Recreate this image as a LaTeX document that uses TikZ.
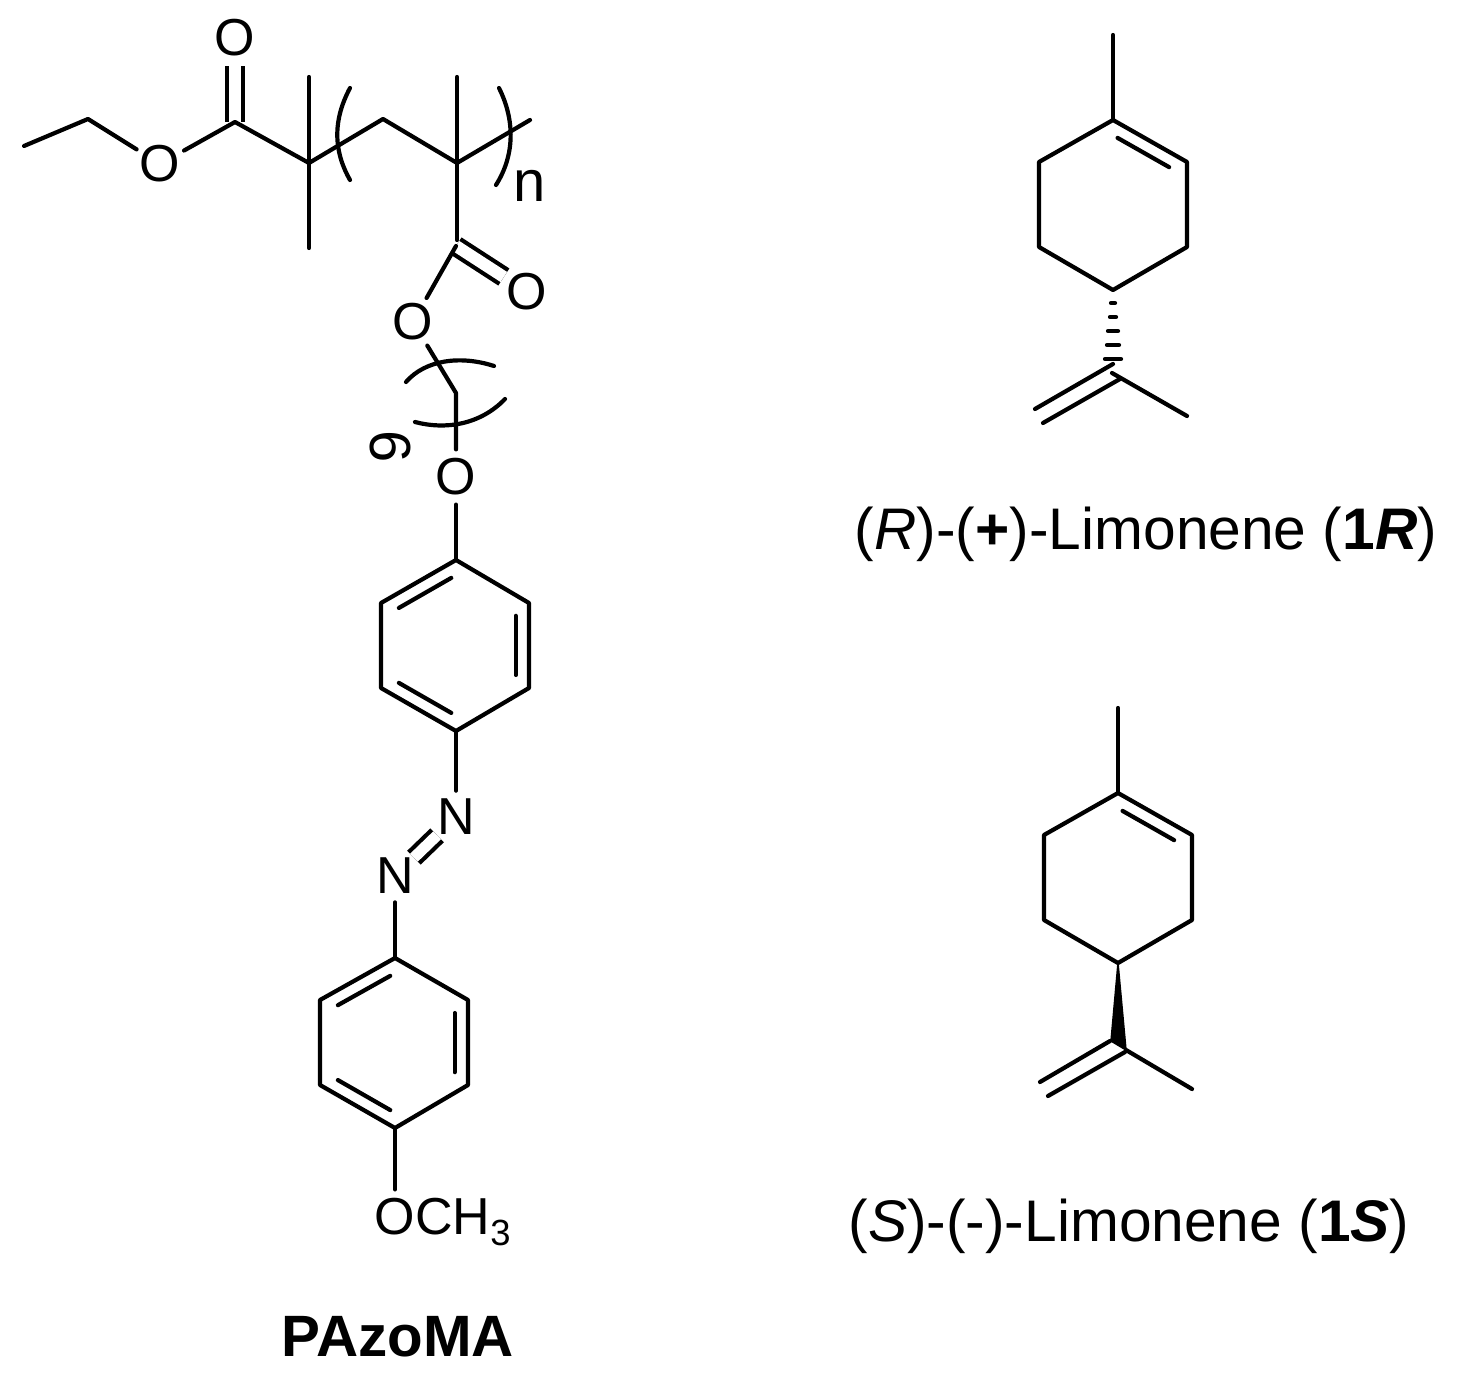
\documentclass[tikz,border=0pt]{standalone}
\usepackage{fontspec}
\setmainfont{Liberation Sans}
\usepackage{tikz}
\usetikzlibrary{calc}
\usetikzlibrary{math}
\usetikzlibrary{positioning}
\tikzstyle{bond} = [line width=0.084cm, line cap=round, line join=round]
\tikzstyle{dbond} = [line width=0.084cm, double, double distance=0.24cm]
\tikzstyle{atom} = [circle, inner sep=0pt, minimum size=1.04cm, font=\fontsize{29.6}{30}\selectfont]
\tikzstyle{title} = [inner sep=0pt, font=\fontsize{33.4}{36}\selectfont]

\begin{document}
\begin{tikzpicture}[x=0.02cm, y=-0.02cm]

  \tikzmath{\xmax = 1457; \ymax = 1378; \k = 0.82;}
  \useasboundingbox (0,0) rectangle (\xmax,\ymax);

  % Fig 1
  \coordinate (me1) at (24,146);
  \coordinate (ch1) at (88,119);
  \node[atom] (o1) at (160,164) {O};
  \coordinate (c1) at (235,122);
  \node[atom] (o2) at (235,38) {O};
  \coordinate (q1) at (309,163);
  \coordinate (q1u) at (309,77);
  \coordinate (q1d) at (309,248);
  \coordinate (ch2) at (383,119);
  \coordinate (q2) at (457,163);
  \coordinate (q2u) at (457,77);
  \coordinate (q2r) at (530,120);
  \coordinate (c2) at (456,246);
  \coordinate (c2t) at (457,240);
  \node[atom] (o3) at (527,292) {O};
  \node[atom] (o4) at (413,322) {O};
  \coordinate (ch3) at (456,393);
  \node[atom] (o5) at (456,477) {O};

  \draw[dbond] (c1) -- (o2);
  \draw[dbond] (c2) -- (o3);
  \draw[bond] (me1) -- (ch1) -- (o1);
  \draw[bond] (o1) -- (c1) -- (q1) -- (ch2) -- (q2) -- (q2r);
  \draw[bond] (q1u) -- (q1d);
  \draw[bond] (q2u) -- (q2) -- (c2t);
  \draw[bond] (c2) -- (o4);
  \draw[bond] (o4) -- (ch3) -- (o5);

  % brackets
  \draw[bond] (350,88) .. controls (333,120) and (333,150) .. (350,180);
  \draw[bond] (499,88) .. controls (515,120) and (515,155) .. (496,185);
  \draw[bond] (406,382) .. controls (425,360) and (460,355) .. (494,366);
  \draw[bond] (415,422) .. controls (445,430) and (480,425) .. (505,399);
  \node[atom] (n) at (530,186) {\fontsize{33}{34}\selectfont n};
  \node[atom, rotate=-90] (six) at (390,447) {\fontsize{33}{34}\selectfont 6};

  % rings of the azo part
  \coordinate (a1) at (456,560);
  \coordinate (a2) at (529,603);
  \coordinate (a3) at (529,688);
  \coordinate (a4) at (456,731);
  \coordinate (a5) at (381,688);
  \coordinate (a6) at (381,603);
  \coordinate (ac) at (455,645);
  \draw[bond] (a1) -- (a2) -- (a3) -- (a4) -- (a5) -- (a6) -- cycle;
  \foreach \p/\q in {a6/a1, a2/a3, a4/a5} {
    \draw[bond, shorten >=3pt, shorten <=3pt] ($(ac)!\k!(\p)$) -- ($(ac)!\k!(\q)$);
  }
  \draw[bond] (o5) -- (a1);

  \node[atom] (n1) at (456,817) {N};
  \node[atom] (n2) at (395,876) {N};
  \draw[dbond, double distance=0.22cm] (n1) -- (n2);
  \draw[bond] (a4) -- (n1);

  \coordinate (b1) at (395,958);
  \coordinate (b2) at (468,1000);
  \coordinate (b3) at (468,1085);
  \coordinate (b4) at (395,1128);
  \coordinate (b5) at (320,1085);
  \coordinate (b6) at (320,1000);
  \coordinate (bc) at (394,1043);
  \draw[bond] (b1) -- (b2) -- (b3) -- (b4) -- (b5) -- (b6) -- cycle;
  \foreach \p/\q in {b6/b1, b2/b3, b4/b5} {
    \draw[bond, shorten >=3pt, shorten <=3pt] ($(bc)!\k!(\p)$) -- ($(bc)!\k!(\q)$);
  }
  \draw[bond] (n2) -- (b1);

  \node[atom] (o6) at (395,1217) {O};
  \node[inner sep=0pt, anchor=base west, font=\fontsize{29.6}{30}\selectfont] (ch3t) at ($(o6.base)+(20,0)$) {CH\textsubscript{3}};
  \draw[bond] (b4) -- (o6);

  \node[title, font=\fontsize{33.2}{36}\selectfont\bfseries] (pazoma) at (398,1337) {PAzoMA};

  % Fig 2
  \coordinate (r1) at (1113,120);
  \coordinate (r2) at (1187,162);
  \coordinate (r3) at (1187,247);
  \coordinate (r4) at (1113,290);
  \coordinate (r5) at (1039,247);
  \coordinate (r6) at (1039,162);
  \coordinate (rc) at (1113,205);
  \coordinate (rme) at (1113,35);
  \draw[bond] (r1) -- (r2) -- (r3) -- (r4) -- (r5) -- (r6) -- cycle;
  \draw[bond] (rme) -- (r1);
  \draw[bond, shorten >=3pt, shorten <=3pt] ($(rc)!\k!(r1)$) -- ($(rc)!\k!(r2)$);
  \foreach \y/\w in {303/2, 317/3, 331/5, 345/6, 359/8} {
    \draw[bond] (1113-\w,\y) -- (1113+\w,\y);
  }
  \coordinate (rq1) at (1112,373);
  \coordinate (rq2) at (1187,416);
  \coordinate (rd1) at (1113,364);
  \coordinate (rd2) at (1035,409);
  \coordinate (rd3) at (1120,379);
  \coordinate (rd4) at (1043,423);
  \draw[bond] (rq1) -- (rq2);
  \draw[bond] (rd1) -- (rd2);
  \draw[bond] (rd3) -- (rd4);
  \node[title] (rname) at (1146,534) {(\textit{R})-(\textbf{+})-Limonene (\textbf{1\textit{R}})};

  % Fig 3
  \coordinate (s1) at (1118,793);
  \coordinate (s2) at (1192,835);
  \coordinate (s3) at (1192,920);
  \coordinate (s4) at (1118,963);
  \coordinate (s5) at (1044,920);
  \coordinate (s6) at (1044,835);
  \coordinate (sc) at (1118,878);
  \coordinate (sme) at (1118,708);
  \draw[bond] (s1) -- (s2) -- (s3) -- (s4) -- (s5) -- (s6) -- cycle;
  \draw[bond] (sme) -- (s1);
  \draw[bond, shorten >=3pt, shorten <=3pt] ($(sc)!\k!(s1)$) -- ($(sc)!\k!(s2)$);
  \coordinate (sw1) at (1111,1041);
  \coordinate (sw2) at (1126,1050);
  \filldraw[line width=0.03cm, line join=round] (s4) -- (sw1) -- (sw2) -- cycle;
  \coordinate (sq) at (1192,1089);
  \coordinate (sd1) at (1110,1041);
  \coordinate (sd2) at (1040,1082);
  \coordinate (sd3) at (1125,1052);
  \coordinate (sd4) at (1048,1096);
  \draw[bond] (sw2) -- (sq);
  \draw[bond] (sd1) -- (sd2);
  \draw[bond] (sd3) -- (sd4);
  \node[title] (sname) at (1129,1226) {(\textit{S})-(-)-Limonene (\textbf{1\textit{S}})};

\end{tikzpicture}
\end{document}
